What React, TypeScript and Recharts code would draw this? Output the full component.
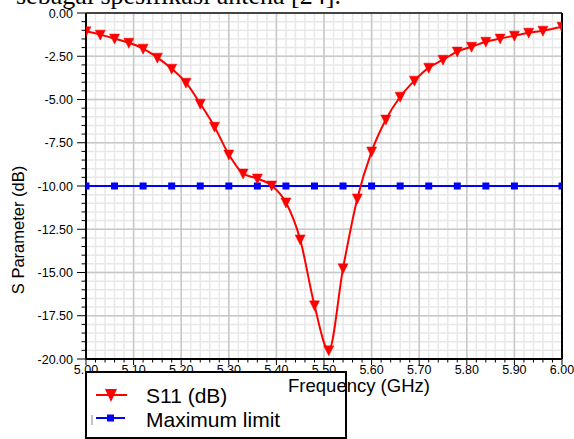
import React from 'react';
import { LineChart, Line, XAxis, YAxis, CartesianGrid, ReferenceLine, Legend } from 'recharts';

// ---- data ----
const s11Freq = [
  5.0, 5.03, 5.06, 5.09, 5.12, 5.15, 5.18, 5.21, 5.24, 5.27, 5.3, 5.33, 5.36, 5.39, 5.42, 5.45, 5.48,
  5.51, 5.54, 5.57, 5.6, 5.63, 5.66, 5.69, 5.72, 5.75, 5.78, 5.81, 5.84, 5.87, 5.9, 5.93, 5.96, 6.0,
];
const s11Db = [
  -1.06, -1.25, -1.48, -1.72, -2.06, -2.58, -3.22, -4.03, -5.24, -6.57, -8.18, -9.28, -9.57, -9.97,
  -10.95, -13.09, -16.9, -19.5, -14.76, -10.72, -8.01, -6.16, -4.84, -3.91, -3.16, -2.7, -2.23, -1.95,
  -1.66, -1.48, -1.31, -1.14, -1.02, -0.79,
];
const limitFreq = [
  5.0, 5.06, 5.12, 5.18, 5.24, 5.3, 5.36, 5.42, 5.48, 5.54, 5.6, 5.66, 5.72, 5.78, 5.84, 5.9, 6.0,
];
const limitDb = [
  -10, -10, -10, -10, -10, -10, -10, -10, -10, -10, -10, -10, -10, -10, -10, -10, -10,
];
const xMajorTicks = [5.0, 5.1, 5.2, 5.3, 5.4, 5.5, 5.6, 5.7, 5.8, 5.9, 6.0];
const yMajorTicks = [0, -2.5, -5, -7.5, -10, -12.5, -15, -17.5, -20];
const seriesNames = ['S11 (dB)', 'Maximum limit'];
const titleText = 'sebagai spesifikasi antena [24].';
const xTitle = 'Frequency (GHz)';
const yTitle = 'S Parameter (dB)';

// minor ticks: 4 subdivisions between major ticks
const subdivide = (majors: number[]) => {
  const sorted = [...majors].sort((a, b) => a - b);
  const out: number[] = [];
  for (let i = 0; i < sorted.length - 1; i++) {
    const a = sorted[i];
    const b = sorted[i + 1];
    for (let k = 0; k < 5; k++) out.push(Math.round((a + ((b - a) * k) / 5) * 1000) / 1000);
  }
  out.push(sorted[sorted.length - 1]);
  return out;
};
const xAllTicks = subdivide(xMajorTicks);
const yAllTicks = subdivide(yMajorTicks);

const s11Data = s11Freq.map((f, i) => ({ f, v: s11Db[i] }));
const limitData = limitFreq.map((f, i) => ({ f, v: limitDb[i] }));

const isMajor = (list: number[], v: number) => list.some((m) => Math.abs(m - v) < 1e-6);

const SANS = 'Liberation Sans, Arial, sans-serif';
const SERIF = 'Liberation Serif, Times New Roman, serif';
const RED = '#ff0000';
const BLUE = '#0000ff';

const XTick = (props: any) => {
  const { x, y, payload } = props;
  const major = isMajor(xMajorTicks, payload.value);
  return (
    <g>
      <line x1={x} x2={x} y1={y} y2={y + (major ? 6 : 3.5)} stroke="#000" strokeWidth={1} />
      {major && (
        <text x={x} y={y + 15} textAnchor="middle" fill="#000" style={{ fontFamily: SANS, fontSize: 12.5 }}>
          {Number(payload.value).toFixed(2)}
        </text>
      )}
    </g>
  );
};

const YTick = (props: any) => {
  const { x, y, payload } = props;
  const major = isMajor(yMajorTicks, payload.value);
  return (
    <g>
      <line x1={x - (major ? 9 : 4.5)} x2={x} y1={y} y2={y} stroke="#000" strokeWidth={1} />
      {major && (
        <text
          x={x - 13}
          y={y}
          dy="0.36em"
          textAnchor="end"
          fill="#000"
          style={{ fontFamily: SANS, fontSize: 12.5 }}
        >
          {Number(payload.value).toFixed(2)}
        </text>
      )}
    </g>
  );
};

const TriDot = (props: any) => {
  const { cx, cy } = props;
  if (cx == null || cy == null) return null;
  return (
    <polygon
      points={`${cx - 5},${cy - 4.5} ${cx + 5},${cy - 4.5} ${cx},${cy + 5.5}`}
      fill={RED}
      stroke={RED}
      strokeWidth={0.5}
    />
  );
};

const SquareDot = (props: any) => {
  const { cx, cy } = props;
  if (cx == null || cy == null) return null;
  return <rect x={cx - 3.5} y={cy - 3.5} width={7} height={7} fill={BLUE} />;
};

const renderLegend = () => (
  <div style={{ width: 264, height: 70, position: 'relative' }}>
    <svg width={264} height={70} style={{ display: 'block' }}>
      <rect x={2} y={2} width={260} height={66} fill="#fff" stroke="#000" strokeWidth={2} />
      <line x1={12} x2={43} y1={25} y2={25} stroke={RED} strokeWidth={2} />
      <polygon points="21,19 33,19 27,32" fill={RED} />
      <text x={62} y={33} fill="#000" style={{ fontFamily: SANS, fontSize: 21 }}>
        {seriesNames[0]}
      </text>
      <line x1={8} x2={8} y1={45} y2={55} stroke="#888" strokeWidth={1} />
      <line x1={12} x2={41} y1={48} y2={48} stroke={BLUE} strokeWidth={2} />
      <rect x={23} y={44.5} width={7} height={7} fill={BLUE} />
      <text x={62} y={56.5} fill="#000" style={{ fontFamily: SANS, fontSize: 21 }}>
        {seriesNames[1]}
      </text>
    </svg>
  </div>
);

export default function App() {
  return (
    <div
      style={{
        position: 'absolute',
        left: 0,
        top: 0,
        width: 574,
        height: 439,
        overflow: 'hidden',
        background: '#fff',
      }}
    >
      <LineChart width={574} height={439} margin={{ top: 13, right: 12, bottom: 50, left: 26 }}>
        <CartesianGrid stroke="#e8e8e8" strokeWidth={1.5} />
        {xMajorTicks.map((v) => (
          <ReferenceLine key={'gx' + v} x={v} stroke="#c8c8c8" strokeWidth={1.5} />
        ))}
        {yMajorTicks.map((v) => (
          <ReferenceLine key={'gy' + v} y={v} stroke="#c8c8c8" strokeWidth={1.5} />
        ))}
        <XAxis
          dataKey="f"
          type="number"
          domain={[5, 6]}
          ticks={xAllTicks}
          interval={0}
          allowDataOverflow
          tickSize={0}
          tickMargin={0}
          tickLine={false}
          tick={<XTick />}
          axisLine={{ stroke: '#000', strokeWidth: 2 }}
          height={30}
        />
        <YAxis
          type="number"
          domain={[-20, 0]}
          ticks={yAllTicks}
          interval={0}
          allowDataOverflow
          tickSize={0}
          tickMargin={0}
          tickLine={false}
          tick={<YTick />}
          axisLine={{ stroke: '#000', strokeWidth: 2 }}
          width={60}
        />
        <ReferenceLine y={0} stroke="#444" strokeWidth={2} />
        <ReferenceLine x={6} stroke="#000" strokeWidth={2} />
        <Line
          data={limitData}
          dataKey="v"
          name={seriesNames[1]}
          type="linear"
          stroke={BLUE}
          strokeWidth={2}
          dot={(p: any) => <SquareDot key={'sq' + p.index} {...p} />}
          activeDot={false}
          isAnimationActive={false}
          legendType="square"
        />
        <Line
          data={s11Data}
          dataKey="v"
          name={seriesNames[0]}
          type="monotone"
          stroke={RED}
          strokeWidth={2}
          dot={(p: any) => <TriDot key={'tr' + p.index} {...p} />}
          activeDot={false}
          isAnimationActive={false}
          legendType="triangle"
        />
        <Legend
          layout="horizontal"
          verticalAlign="middle"
          align="center"
          content={renderLegend}
          wrapperStyle={{ left: 84, top: 370, width: 264, height: 70, margin: 0, padding: 0 }}
        />
      </LineChart>
      <svg
        width={574}
        height={439}
        style={{ position: 'absolute', left: 0, top: 0, pointerEvents: 'none' }}
      >
        <text x={16} y={4} fill="#000" style={{ fontFamily: SERIF, fontSize: 26 }}>
          {titleText}
        </text>
        <text x={359} y={392} textAnchor="middle" fill="#000" style={{ fontFamily: SANS, fontSize: 18.5 }}>
          {xTitle}
        </text>
        <text
          transform="translate(23.5,230) rotate(-90)"
          textAnchor="middle"
          fill="#000"
          style={{ fontFamily: SANS, fontSize: 16.5 }}
        >
          {yTitle}
        </text>
      </svg>
    </div>
  );
}
